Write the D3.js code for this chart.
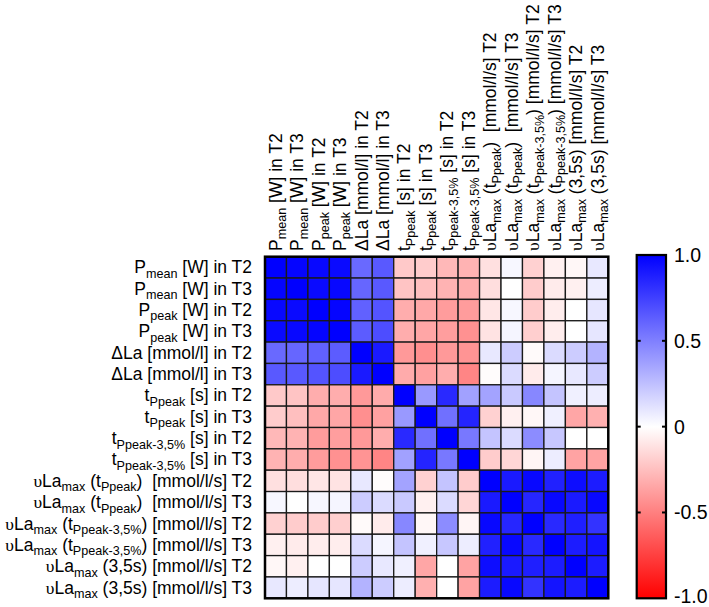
<!DOCTYPE html>
<html><head><meta charset="utf-8">
<script src="https://cdn.jsdelivr.net/npm/d3@7"></script>
<style>
body{margin:0;background:#fff}
text{font-family:"Liberation Sans",Arial,sans-serif;white-space:pre;fill:#000}
</style>
</head><body>
<svg id="chart" width="709" height="607"></svg>
<script>
const labels = [
  "P_{mean} [W] in T2",
  "P_{mean} [W] in T3",
  "P_{peak} [W] in T2",
  "P_{peak} [W] in T3",
  "ΔLa [mmol/l] in T2",
  "ΔLa [mmol/l] in T3",
  "t_{Ppeak} [s] in T2",
  "t_{Ppeak} [s] in T3",
  "t_{Ppeak-3,5%} [s] in T2",
  "t_{Ppeak-3,5%} [s] in T3",
  "υLa_{max} (t_{Ppeak})  [mmol/l/s] T2",
  "υLa_{max} (t_{Ppeak})  [mmol/l/s] T3",
  "υLa_{max} (t_{Ppeak-3,5%}) [mmol/l/s] T2",
  "υLa_{max} (t_{Ppeak-3,5%}) [mmol/l/s] T3",
  "υLa_{max} (3,5s) [mmol/l/s] T2",
  "υLa_{max} (3,5s) [mmol/l/s] T3"
];
const corr = [
  [ 1.00, 0.98, 0.97, 0.96, 0.59, 0.65,-0.21,-0.20,-0.28,-0.30,-0.12, 0.03,-0.18,-0.06,-0.03, 0.09],
  [ 0.98, 1.00, 0.96, 0.97, 0.60, 0.65,-0.23,-0.25,-0.30,-0.32,-0.13, 0.00,-0.20,-0.08,-0.06, 0.07],
  [ 0.97, 0.96, 1.00, 0.98, 0.62, 0.67,-0.32,-0.34,-0.39,-0.39,-0.10, 0.03,-0.20,-0.07, 0.00, 0.10],
  [ 0.96, 0.97, 0.98, 1.00, 0.64, 0.70,-0.32,-0.35,-0.38,-0.43,-0.11, 0.04,-0.19,-0.07, 0.00, 0.10],
  [ 0.59, 0.60, 0.62, 0.64, 1.00, 0.90,-0.40,-0.44,-0.40,-0.42, 0.09, 0.20,-0.02, 0.14, 0.20, 0.30],
  [ 0.65, 0.65, 0.67, 0.70, 0.90, 1.00,-0.33,-0.37,-0.32,-0.48,-0.01, 0.14,-0.08, 0.04, 0.09, 0.20],
  [-0.21,-0.23,-0.32,-0.32,-0.40,-0.33, 1.00, 0.40, 0.84, 0.37, 0.36, 0.21, 0.47, 0.23, 0.06, 0.07],
  [-0.20,-0.25,-0.34,-0.35,-0.44,-0.37, 0.40, 1.00, 0.56, 0.86,-0.18,-0.06,-0.03, 0.06,-0.35,-0.31],
  [-0.28,-0.30,-0.39,-0.38,-0.40,-0.32, 0.84, 0.56, 1.00, 0.53, 0.23, 0.14, 0.45, 0.22, 0.00, 0.00],
  [-0.30,-0.32,-0.39,-0.43,-0.42,-0.48, 0.37, 0.86, 0.53, 1.00,-0.20,-0.16,-0.04, 0.07,-0.36,-0.36],
  [-0.12,-0.13,-0.10,-0.11, 0.09,-0.01, 0.36,-0.18, 0.23,-0.20, 1.00, 0.90, 0.97, 0.87, 0.95, 0.89],
  [ 0.03, 0.00, 0.03, 0.04, 0.20, 0.14, 0.21,-0.06, 0.14,-0.16, 0.90, 1.00, 0.85, 0.97, 0.90, 0.97],
  [-0.18,-0.20,-0.20,-0.19,-0.02,-0.08, 0.47,-0.03, 0.45,-0.04, 0.97, 0.85, 1.00, 0.84, 0.88, 0.80],
  [-0.06,-0.08,-0.07,-0.07, 0.14, 0.04, 0.23, 0.06, 0.22, 0.07, 0.87, 0.97, 0.84, 1.00, 0.89, 0.92],
  [-0.03,-0.06, 0.00, 0.00, 0.20, 0.09, 0.06,-0.35, 0.00,-0.36, 0.95, 0.90, 0.88, 0.89, 1.00, 0.89],
  [ 0.09, 0.07, 0.10, 0.10, 0.30, 0.20, 0.07,-0.31, 0.00,-0.36, 0.89, 0.97, 0.80, 0.92, 0.89, 1.00]
];
const legendTicks = [1, 0.5, 0, -0.5, -1];
const legendTickLabels = ["1.0", "0.5", "0", "-0.5", "-1.0"];

const svg = d3.select("#chart");
const FS = 17.5, SUB = 0.72, SUBDY = 0.25;
const gx0 = 265, gx1 = 608.3, gy0 = 256.7, gy1 = 598.3;

const x = d3.scaleBand().domain(d3.range(labels.length)).range([gx0, gx1]).padding(0);
const y = d3.scaleBand().domain(d3.range(labels.length)).range([gy0, gy1]).padding(0);
const color = d3.scaleLinear().domain([-1, 0, 1]).range(["#ff0000", "#ffffff", "#0000ff"]);

const cells = [];
corr.forEach((row, i) => row.forEach((v, j) => cells.push({i, j, v})));

svg.append("g").selectAll("rect").data(cells).join("rect")
  .attr("x", d => x(d.j)).attr("y", d => y(d.i))
  .attr("width", x.bandwidth()).attr("height", y.bandwidth())
  .attr("fill", d => color(d.v))
  .attr("stroke", "#1a1a1a").attr("stroke-width", 1.3);

svg.append("rect").attr("x", gx0).attr("y", gy0)
  .attr("width", gx1 - gx0).attr("height", gy1 - gy0)
  .attr("fill", "none").attr("stroke", "#000").attr("stroke-width", 2.5);

function richText(sel, str) {
  const parts = str.split(/(_\{[^}]*\})/).filter(s => s.length);
  let shifted = false;
  parts.forEach(p => {
    if (p.startsWith("_{")) {
      sel.append("tspan").attr("font-size", FS * SUB)
        .attr("dy", shifted ? 0 : FS * SUBDY).text(p.slice(2, -1));
      shifted = true;
    } else {
      const segs = p.split(/(υ)/).filter(s => s.length);
      segs.forEach((s, k) => {
        const t = sel.append("tspan").text(s);
        if (s === "υ") t.style("font-family", "'Liberation Serif','DejaVu Serif',serif");
        if (shifted && k === 0) { t.attr("dy", -FS * SUBDY); }
      });
      shifted = false;
    }
  });
}

// row labels
const rowG = svg.append("g");
labels.forEach((lab, i) => {
  const t = rowG.append("text")
    .attr("x", 252).attr("y", y(i) + y.bandwidth() / 2 + FS * 0.34)
    .attr("text-anchor", "end").attr("font-size", FS);
  richText(t, lab);
});

// column labels
const colG = svg.append("g");
labels.forEach((lab, j) => {
  const cx = x(j) + x.bandwidth() / 2 + FS * 0.34;
  const t = colG.append("text")
    .attr("transform", `translate(${cx},251) rotate(-90)`)
    .attr("text-anchor", "start").attr("font-size", FS);
  richText(t, lab);
});

// colour bar
const lx0 = 636.7, lx1 = 666, ly0 = 255, ly1 = 598.3;
const ly = d3.scaleLinear().domain([1, -1]).range([ly0, ly1]);
const defs = svg.append("defs");
const grad = defs.append("linearGradient").attr("id", "cb")
  .attr("x1", 0).attr("y1", 0).attr("x2", 0).attr("y2", 1);
[1, 0, -1].forEach(v => grad.append("stop")
  .attr("offset", (ly(v) - ly0) / (ly1 - ly0)).attr("stop-color", color(v)));
svg.append("rect").attr("x", lx0).attr("y", ly0)
  .attr("width", lx1 - lx0).attr("height", ly1 - ly0)
  .attr("fill", "url(#cb)").attr("stroke", "#000").attr("stroke-width", 2.2);
const tg = svg.append("g");
legendTicks.forEach((v, k) => {
  if (Math.abs(v) < 1) {
    tg.append("line").attr("x1", lx0).attr("x2", lx0 + 4).attr("y1", ly(v)).attr("y2", ly(v))
      .attr("stroke", "#000").attr("stroke-width", 2);
    tg.append("line").attr("x1", lx1 - 4).attr("x2", lx1).attr("y1", ly(v)).attr("y2", ly(v))
      .attr("stroke", "#000").attr("stroke-width", 2);
  }
  tg.append("text").attr("x", 674).attr("y", Math.min(ly(v) + 19.5 * 0.36, 603))
    .attr("font-size", 19.5).text(legendTickLabels[k]);
});
</script>
</body></html>
